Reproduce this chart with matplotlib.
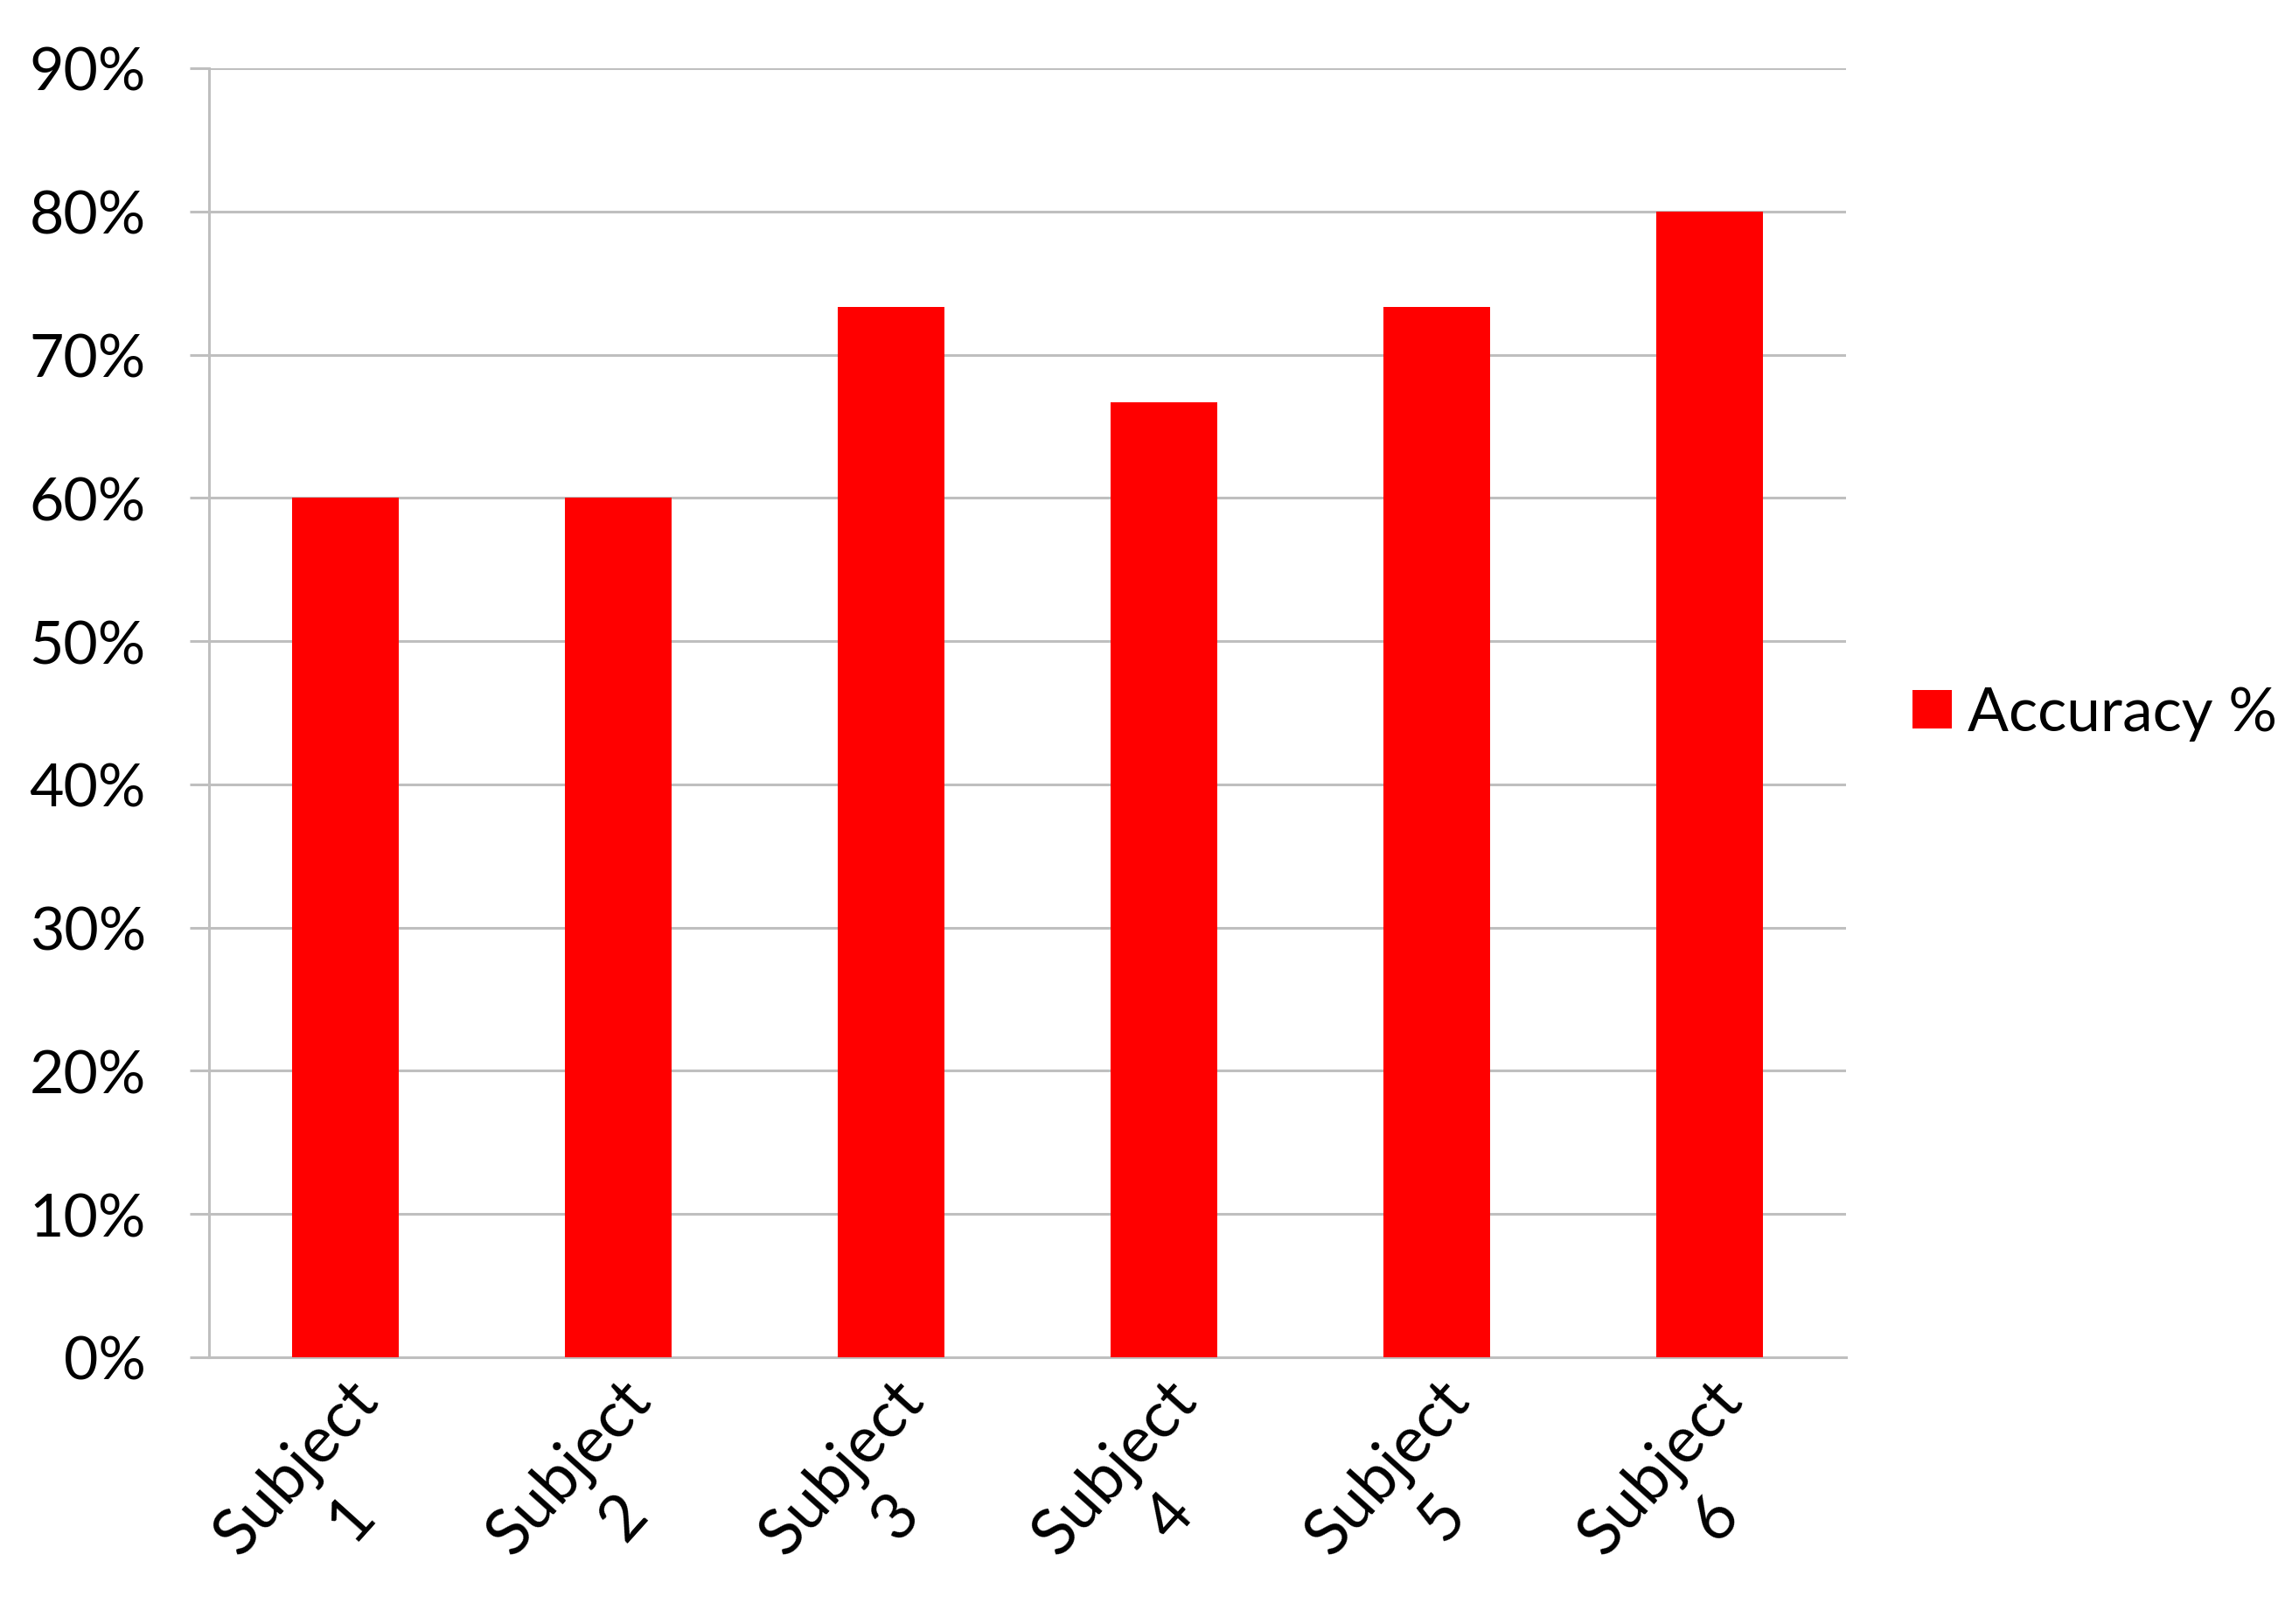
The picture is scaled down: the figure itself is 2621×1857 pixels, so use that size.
import matplotlib.pyplot as plt
from matplotlib.patches import Patch
from matplotlib.ticker import FuncFormatter

plt.rcParams['font.family'] = ['Lato', 'DejaVu Sans']

subjects = ['Subject\n1', 'Subject\n2', 'Subject\n3', 'Subject\n4', 'Subject\n5', 'Subject\n6']
accuracy = [0.60, 0.60, 0.733, 0.667, 0.733, 0.80]
y_ticks = [0.0, 0.1, 0.2, 0.3, 0.4, 0.5, 0.6, 0.7, 0.8, 0.9]
series_name = 'Accuracy %'

grid_col = '#BFBFBF'
bar_col = '#FF0000'

fig = plt.figure(figsize=(26.21, 18.58), dpi=100)
ax = fig.add_axes([0.0912, 0.1642, 0.8054 - 0.0912, 0.9575 - 0.1642])

x = range(len(subjects))
ax.bar(x, accuracy, width=0.39, color=bar_col, zorder=3)

ax.set_xlim(-0.5, len(subjects) - 0.5)
ax.set_ylim(0, 0.9)
ax.set_yticks(y_ticks)
ax.yaxis.set_major_formatter(FuncFormatter(lambda v, p: f'{v * 100:.0f}%'))
ax.grid(axis='y', color=grid_col, linewidth=2.2, zorder=0)

for s in ['top', 'right']:
    ax.spines[s].set_visible(False)
for s in ['left', 'bottom']:
    ax.spines[s].set_color(grid_col)
    ax.spines[s].set_linewidth(2.2)

ax.tick_params(axis='y', length=16, width=2.2, color=grid_col, pad=36, labelsize=49)
ax.tick_params(axis='x', length=0, pad=10, labelsize=53)
ax.set_xticks(list(x))
ax.set_xticklabels(subjects, rotation=48, ha='right', va='top',
                   rotation_mode='anchor', multialignment='center', linespacing=1.3)

handle = Patch(facecolor=bar_col, edgecolor='none')
fig.legend([handle], [series_name], loc='center left', bbox_to_anchor=(0.8344, 0.5603),
           frameon=False, fontsize=50, handlelength=0.65, handleheight=0.6,
           handletextpad=0.26, borderpad=0, borderaxespad=0)

fig.savefig('out.png', dpi=100)
